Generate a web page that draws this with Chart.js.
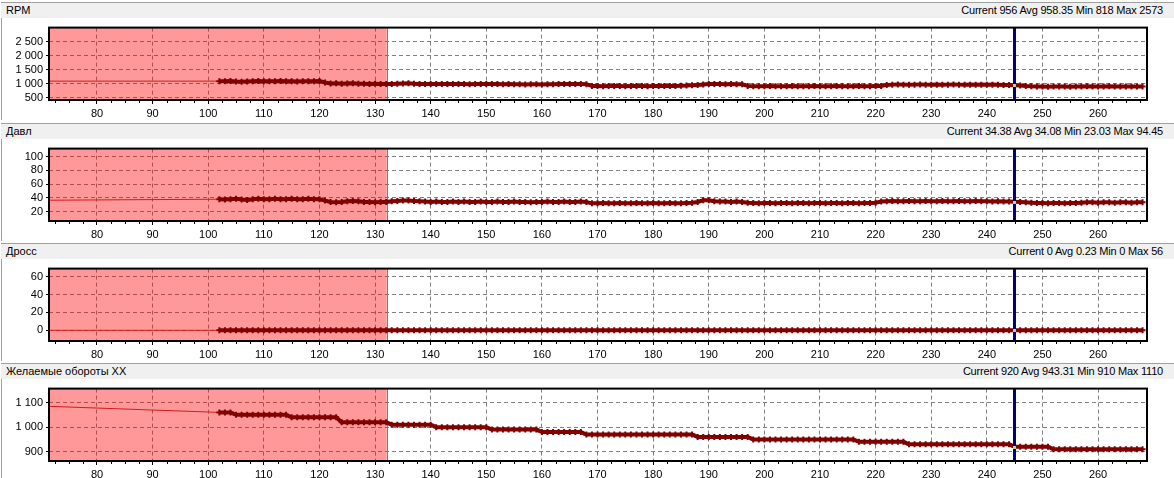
<!DOCTYPE html>
<html>
<head>
<meta charset="utf-8">
<script src="https://cdn.jsdelivr.net/npm/chart.js@4.4.1/dist/chart.umd.min.js"></script>
<style>
  body { margin: 0; background: #fff; font: 11px "Liberation Sans", Arial, sans-serif; color: #000; }
  .panel { position: absolute; left: 0; width: 1174px; height: 120px; }
  .edge { position: absolute; left: 1px; top: 2px; bottom: 0; border-left: 1px solid #a0a0a0; }
  .bar { position: absolute; left: 1px; right: 0; top: 2px; height: 15px; background: #f0f0f0; border-top: 1px solid #a0a0a0; }
  .title { position: absolute; left: 5px; top: 1px; white-space: nowrap; }
  .stats { position: absolute; right: 11px; top: 1px; white-space: nowrap; letter-spacing: -0.2px; }
  canvas { position: absolute; left: 0; top: 18px; }
</style>
</head>
<body>
<div id="root"></div>
<script>
// Panel titles and the stats shown on the right of each title bar
var names = ["RPM", "Давл", "Дросс", "Желаемые обороты ХХ"];
var currentVals = [956, 34.38, 0, 920];
var avgVals = [958.35, 34.08, 0.23, 943.31];
var minVals = [818, 23.03, 0, 910];
var maxVals = [2573, 94.45, 56, 1110];

// Axis ticks
var timeTicks = [80, 90, 100, 110, 120, 130, 140, 150, 160, 170, 180, 190, 200, 210, 220, 230, 240, 250, 260];
var rpmTicks = [500, 1000, 1500, 2000, 2500];
var pressTicks = [20, 40, 60, 80, 100];
var throttleTicks = [0, 20, 40, 60];
var targetTicks = [900, 1000, 1100];

// Visible ranges
var timeMin = 71.37, timeMax = 268.8;
var rpmRange = [425, 3015];
var pressRange = [6.3, 111.6];
var throttleRange = [-12, 69];
var targetRange = [862, 1157];

var shadedUntil = 132.1; // red zone on the left
var cursorTime = 244.9;  // blue cursor line

// Sample before the visible window (the thin line coming in from the left)
var leadTime = 40;
var leadValues = [1100, 35, 0, 1110];

// Sample times
var times = [
  102, 103, 104, 105, 106, 107, 108, 109, 110, 111, 112, 113, 114, 115, 116, 117, 118, 119, 120, 121,
  122, 123, 124, 125, 126, 127, 128, 129, 130, 131, 132, 133, 134, 135, 136, 137, 138, 139, 140, 141,
  142, 143, 144, 145, 146, 147, 148, 149, 150, 151, 152, 153, 154, 155, 156, 157, 158, 159, 160, 161,
  162, 163, 164, 165, 166, 167, 168, 169, 170, 171, 172, 173, 174, 175, 176, 177, 178, 179, 180, 181,
  182, 183, 184, 185, 186, 187, 188, 189, 190, 191, 192, 193, 194, 195, 196, 197, 198, 199, 200, 201,
  202, 203, 204, 205, 206, 207, 208, 209, 210, 211, 212, 213, 214, 215, 216, 217, 218, 219, 220, 221,
  222, 223, 224, 225, 226, 227, 228, 229, 230, 231, 232, 233, 234, 235, 236, 237, 238, 239, 240, 241,
  242, 243, 244, 245, 246, 247, 248, 249, 250, 251, 252, 253, 254, 255, 256, 257, 258, 259, 260, 261,
  262, 263, 264, 265, 266, 267, 268
];

var rpm = [
  1100, 1095, 1105, 1090, 1080, 1090, 1100, 1105, 1100, 1095, 1100, 1105, 1100, 1095, 1090, 1100, 1095, 1100, 1105,
  1050,
  1015, 1020, 1010, 1015, 1020, 1010, 1005, 1000, 1005, 1000, 995,
  1000, 1010, 1015, 1020, 1010, 1000,
  995, 1000, 995, 1000, 1000, 995, 1000, 995, 990, 995, 1000, 995, 1000, 995, 990, 995, 990,
  985, 980, 985, 985, 980, 985,
  990, 995, 1000, 1000, 995, 995, 990,
  930, 925, 920, 925, 930, 925, 920, 925, 930, 925, 920, 925, 930, 930, 925, 930, 935, 940, 950, 960,
  980, 995, 1000, 995, 990, 995, 990, 985,
  930, 920, 915, 920, 925, 920, 915, 920, 925, 920, 915, 920, 925, 920, 915, 920, 925, 920, 915, 920, 925, 920, 920, 925, 930,
  965, 975, 980, 975, 970, 975, 980, 975, 970, 975, 970, 975, 980, 975, 970, 975, 970, 975, 970, 975, 970, 965, 960,
  956, 940, 925, 915, 910, 905, 900, 905, 910, 905, 900, 905, 910, 915, 910, 905, 910, 915, 910, 905, 910, 905, 910, 905
];

var pressure = [
  38, 37.5, 38, 38.5, 37.5, 37, 38, 38.5, 38, 38, 38.5, 38, 38, 38.5, 38, 38, 38.5, 38, 38,
  36,
  34, 33.5, 34, 35, 35.5, 35, 34, 34, 33.5, 34, 34,
  35, 35.5, 36, 36, 35.5, 35,
  34.5, 34, 34.5, 34, 34, 34.5, 34, 34.5, 34, 34, 34.5, 34, 34, 34.5, 34, 34, 34.5, 34, 34, 33.5,
  34, 34, 34.5, 34, 34, 34.5, 34, 34, 34.5, 34,
  32, 32, 32.5, 32, 32, 32.5, 32, 32, 32.5, 32, 32, 32.5, 32, 32, 32.5, 32, 32, 32.5, 33, 34,
  36.5, 36.5,
  35, 34.5, 34.5, 34, 34.5, 34, 33,
  32.5, 32, 32.5, 32.5, 32, 32.5, 32.5, 32, 32.5, 32.5, 32, 32.5, 32.5, 32, 32.5, 32.5, 32, 32.5, 32.5, 32,
  32.5, 32.5, 33, 34.5,
  35, 35.5, 35, 35, 35.5, 35, 35, 35.5, 35, 35, 35.5, 35, 35, 35.5, 35, 35, 35.5, 35, 35, 34.5, 35, 34.5, 34.5,
  34.38, 34, 33.5, 33, 32.5,
  32.5, 32, 32.5, 32.5, 32, 32.5, 32.5, 33,
  33.5, 33.5, 33, 33.5, 33.5, 33, 33.5, 33.5, 33, 33.5, 33.5
];

var throttle = [
  0, 0, 0, 0, 0, 0, 0, 0, 0, 0, 0, 0, 0, 0, 0, 0, 0, 0, 0, 0,
  0, 0, 0, 0, 0, 0, 0, 0, 0, 0, 0, 0, 0, 0, 0, 0, 0, 0, 0, 0,
  0, 0, 0, 0, 0, 0, 0, 0, 0, 0, 0, 0, 0, 0, 0, 0, 0, 0, 0, 0,
  0, 0, 0, 0, 0, 0, 0, 0, 0, 0, 0, 0, 0, 0, 0, 0, 0, 0, 0, 0,
  0, 0, 0, 0, 0, 0, 0, 0, 0, 0, 0, 0, 0, 0, 0, 0, 0, 0, 0, 0,
  0, 0, 0, 0, 0, 0, 0, 0, 0, 0, 0, 0, 0, 0, 0, 0, 0, 0, 0, 0,
  0, 0, 0, 0, 0, 0, 0, 0, 0, 0, 0, 0, 0, 0, 0, 0, 0, 0, 0, 0,
  0, 0, 0, 0, 0, 0, 0, 0, 0, 0, 0, 0, 0, 0, 0, 0, 0, 0, 0, 0,
  0, 0, 0, 0, 0, 0, 0
];

var targetIdle = [
  1060, 1060, 1060,
  1050, 1050, 1050, 1050, 1050, 1050, 1050, 1050, 1050, 1050,
  1040, 1040, 1040, 1040, 1040, 1040, 1040, 1040, 1040,
  1020, 1020, 1020, 1020, 1020, 1020, 1020, 1020, 1020,
  1010, 1010, 1010, 1010, 1010, 1010, 1010, 1010,
  1000, 1000, 1000, 1000, 1000, 1000, 1000, 1000, 1000, 1000,
  990, 990, 990, 990, 990, 990, 990, 990, 990,
  980, 980, 980, 980, 980, 980, 980, 980,
  970, 970, 970, 970, 970, 970, 970, 970, 970, 970, 970, 970, 970, 970, 970, 970, 970, 970, 970, 970,
  960, 960, 960, 960, 960, 960, 960, 960, 960, 960,
  950, 950, 950, 950, 950, 950, 950, 950, 950, 950, 950, 950, 950, 950, 950, 950, 950, 950, 950,
  940, 940, 940, 940, 940, 940, 940, 940, 940,
  930, 930, 930, 930, 930, 930, 930, 930, 930, 930, 930, 930, 930, 930, 930, 930, 930, 930, 930,
  920, 920, 920, 920, 920, 920, 920,
  910, 910, 910, 910, 910, 910, 910, 910, 910, 910, 910, 910, 910, 910, 910, 910, 910
];

var series = [rpm, pressure, throttle, targetIdle];
var yTicks = [rpmTicks, pressTicks, throttleTicks, targetTicks];
var yRanges = [rpmRange, pressRange, throttleRange, targetRange];
var panelTops = [0, 121, 241, 361];

var FONT = { family: "'Liberation Sans', Arial, sans-serif", size: 11 };

// "2500" -> "2 500"
function fmt(v) {
  return String(v).replace(/\B(?=(\d{3})+(?!\d))/g, " ");
}

// red zone, cursor, frame and minor ticks
var decorPlugin = {
  id: "decor",
  beforeDatasetsDraw: function (chart) {
    var ctx = chart.ctx, a = chart.chartArea, x = chart.scales.x;
    var end = x.getPixelForValue(shadedUntil);
    ctx.save();
    ctx.fillStyle = "rgba(255, 0, 0, 0.4)";
    ctx.fillRect(a.left, a.top, end - a.left, a.bottom - a.top);
    ctx.strokeStyle = "#8f7474";
    ctx.lineWidth = 1;
    ctx.beginPath();
    ctx.moveTo(Math.round(end) + 0.5, a.top);
    ctx.lineTo(Math.round(end) + 0.5, a.bottom);
    ctx.stroke();
    ctx.restore();
  },
  afterDatasetsDraw: function (chart, args, opts) {
    var ctx = chart.ctx, a = chart.chartArea;
    var cx = Math.round(chart.scales.x.getPixelForValue(cursorTime));
    var cy = Math.round(chart.scales.y.getPixelForValue(opts.current));
    ctx.save();
    ctx.fillStyle = "#00007a";
    ctx.fillRect(cx - 1, a.top, 3, a.bottom - a.top);
    ctx.fillStyle = "#98e890";
    ctx.fillRect(cx - 1, cy - 1, 3, 3);
    ctx.restore();
  },
  afterDraw: function (chart) {
    var ctx = chart.ctx, a = chart.chartArea, x = chart.scales.x;
    ctx.save();
    ctx.strokeStyle = "#000";
    ctx.lineWidth = 2;
    ctx.strokeRect(a.left, a.top, a.right - a.left, a.bottom - a.top);
    // minor ticks every 2.5 s along the bottom
    ctx.lineWidth = 1;
    ctx.beginPath();
    for (var t = 72.5; t < timeMax; t += 2.5) {
      if (t % 10 === 0) continue;
      var px = Math.round(x.getPixelForValue(t)) + 0.5;
      ctx.moveTo(px, a.bottom);
      ctx.lineTo(px, a.bottom + 3);
    }
    ctx.stroke();
    ctx.restore();
  }
};

function makePanel(i) {
  var panel = document.createElement("div");
  panel.className = "panel";
  panel.style.top = panelTops[i] + "px";
  panel.innerHTML =
    '<div class="edge"></div>' +
    '<div class="bar"><span class="title">' + names[i] + '</span>' +
    '<span class="stats">Current ' + currentVals[i] + ' Avg ' + avgVals[i] +
    ' Min ' + minVals[i] + ' Max ' + maxVals[i] + '</span></div>';
  var canvas = document.createElement("canvas");
  canvas.width = 1174;
  canvas.height = 102;
  panel.appendChild(canvas);
  document.getElementById("root").appendChild(panel);

  var points = [{ x: leadTime, y: leadValues[i] }];
  for (var k = 0; k < times.length; k++) {
    points.push({ x: times[k], y: series[i][k] });
  }

  var ticks = yTicks[i];

  new Chart(canvas.getContext("2d"), {
    type: "line",
    data: {
      datasets: [
        {
          data: points,
          borderColor: "#800000",
          borderWidth: 4,
          segment: {
            borderColor: function (c) { return c.p0DataIndex === 0 ? "#d41a1a" : undefined; },
            borderWidth: function (c) { return c.p0DataIndex === 0 ? 1 : undefined; }
          },
          pointStyle: "cross",
          pointRadius: function (c) { return c.dataIndex === 0 ? 0 : 3; },
          pointBorderColor: "#800000",
          pointBorderWidth: 2,
          pointHoverRadius: 0,
          clip: 0
        }
      ]
    },
    options: {
      responsive: false,
      animation: false,
      devicePixelRatio: 1,
      events: [],
      layout: { padding: { top: 3, right: 27, left: 0, bottom: 0 } },
      plugins: {
        legend: { display: false },
        tooltip: { enabled: false },
        decor: { current: currentVals[i] }
      },
      scales: {
        x: {
          type: "linear",
          min: timeMin,
          max: timeMax,
          afterBuildTicks: function (s) {
            s.ticks = timeTicks.map(function (v) { return { value: v }; });
          },
          afterFit: function (s) { s.height = 20; },
          ticks: { font: FONT, color: "#000", padding: 3, maxRotation: 0, autoSkip: false },
          grid: { color: "#808080", tickColor: "#000", tickLength: 4 },
          border: { display: false, dash: [4, 3] }
        },
        y: {
          min: yRanges[i][0],
          max: yRanges[i][1],
          afterBuildTicks: function (s) {
            s.ticks = ticks.map(function (v) { return { value: v }; });
          },
          afterFit: function (s) { s.width = 49; },
          ticks: {
            font: FONT,
            color: "#000",
            padding: 3,
            callback: function (v) { return fmt(v); }
          },
          grid: { color: "#808080", tickColor: "#000", tickLength: 3 },
          border: { display: false, dash: [4, 3] }
        }
      }
    },
    plugins: [decorPlugin]
  });
}

for (var i = 0; i < names.length; i++) {
  makePanel(i);
}
</script>
</body>
</html>
